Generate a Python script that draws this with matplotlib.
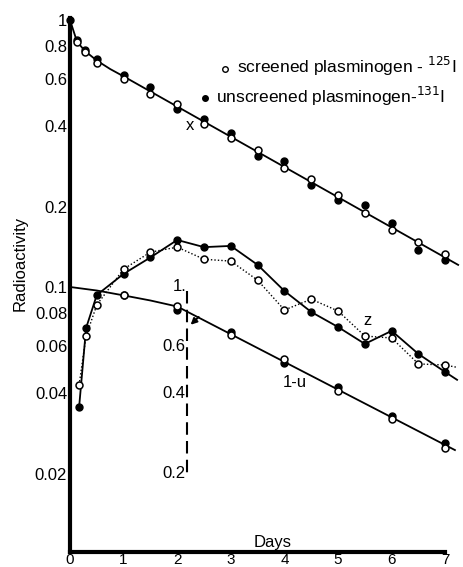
import matplotlib
matplotlib.use('Agg')
import matplotlib.pyplot as plt

plt.rcParams['font.family'] = ['Liberation Sans', 'DejaVu Sans']

# ---------------- data ----------------
# x curve (plasma radioactivity)
x_days = [0.13, 0.28, 0.5, 1, 1.5, 2, 2.5, 3, 3.5, 4, 4.5, 5, 5.5, 6, 6.5, 7]
x_unscreened = [0.84, 0.77, 0.714, 0.622, 0.561, 0.464, 0.426, 0.378, 0.31, 0.296,
                0.241, 0.212, 0.203, 0.174, 0.137, 0.126]
x_screened = [0.83, 0.76, 0.69, 0.60, 0.528, 0.485, 0.408, 0.361, 0.326, 0.279,
              0.254, 0.221, 0.189, 0.163, 0.147, 0.133]
x_start_day = [0]
x_start_val = [1.0]
x_fit_days = [0, 0.13, 0.28, 0.5, 0.75, 1, 7.24]
x_fit_vals = [1.0, 0.83, 0.765, 0.705, 0.655, 0.615, 0.121]

# z curve
z_days = [0.17, 0.3, 0.5, 1, 1.5, 2, 2.5, 3, 3.5, 4, 4.5, 5, 5.5, 6, 6.5, 7]
z_unscreened = [0.0355, 0.0702, 0.0933, 0.112, 0.129, 0.150, 0.141, 0.1425, 0.121,
                0.0966, 0.0806, 0.0708, 0.0612, 0.0685, 0.0561, 0.048]
z_screened = [0.043, 0.0655, 0.0857, 0.1167, 0.135, 0.141, 0.127, 0.125, 0.106,
              0.082, 0.090, 0.0813, 0.0655, 0.0644, 0.0515, 0.051]
z_tail_day = 7.22
z_unscreened_tail = 0.0449
z_screened_tail = 0.050

# 1-u curve
u_days = [1, 2, 3, 4, 5, 6, 7]
u_unscreened = [0.0933, 0.082, 0.0678, 0.0519, 0.0422, 0.0329, 0.026]
u_screened = [0.0933, 0.0849, 0.066, 0.0537, 0.0407, 0.032, 0.0249]
u_fit_days = [0, 0.5, 1, 1.5, 2, 7.18]
u_fit_vals = [0.1, 0.097, 0.093, 0.089, 0.0845, 0.0245]

# inner (1-u) scale
inner_day = 2.18
inner_ticks = [1.0, 0.6, 0.4, 0.2]
inner_labels = ['1.', '0.6', '0.4', '0.2']

# axis ticks
y_ticks = [0.02, 0.04, 0.06, 0.08, 0.1, 0.2, 0.4, 0.6, 0.8, 1]
y_labels = ['0.02', '0.04', '0.06', '0.08', '0.1', '0.2', '0.4', '0.6', '0.8', '1']
x_ticks = [0, 1, 2, 3, 4, 5, 6, 7]

legend_screened = r'screened plasminogen - $^{125}$I'
legend_unscreened = r'unscreened plasminogen-$^{131}$I'

# ---------------- figure ----------------
fig = plt.figure(figsize=(4.63, 5.67), dpi=100)
ax = fig.add_axes([70/463, 1-552/567, 386/463, 534/567])
ax.set_yscale('log')
ax.set_xlim(0, 7.2)
ax.set_ylim(0.01017, 1.0174)

fs = 12
filled = dict(marker='o', ms=5, mfc='black', mec='black', mew=1, ls='none', zorder=4, clip_on=False)
opened = dict(marker='o', ms=5, mfc='white', mec='black', mew=1.1, ls='none', zorder=5, clip_on=False)

# x curve
ax.plot(x_fit_days, x_fit_vals, color='black', lw=1.3, clip_on=False, zorder=3)
ax.plot(x_start_day, x_start_val, **filled)
ax.plot(x_days, x_unscreened, **filled)
ax.plot(x_days, x_screened, **opened)

# z curve
ax.plot(z_days + [z_tail_day], z_unscreened + [z_unscreened_tail], color='black', lw=1.3,
        clip_on=False, zorder=3)
ax.plot(z_days + [z_tail_day], z_screened + [z_screened_tail], color='black', lw=1.0,
        ls=(0, (1, 1.5)), clip_on=False, zorder=3)
ax.plot(z_days, z_unscreened, **filled)
ax.plot(z_days, z_screened, **opened)

# 1-u curve
ax.plot(u_fit_days, u_fit_vals, color='black', lw=1.3, clip_on=False, zorder=3)
ax.plot(u_days, u_unscreened, **filled)
ax.plot(u_days, u_screened, **opened)

# inner scale
inner_pos = [t / 10 for t in inner_ticks]
ax.plot([inner_day, inner_day], [inner_pos[0] * 0.97, inner_pos[-1]], color='black', lw=1.5,
        ls=(0, (6, 3)), zorder=2)
for p, lab in zip(inner_pos, inner_labels):
    dx = 0.0 if lab == '1.' else 0.03
    ax.text(inner_day - dx, p, lab, ha='right', va='center', fontsize=fs)
ax.annotate('', xy=(2.25, 0.0722), xytext=(2.40, 0.0772),
            arrowprops=dict(arrowstyle='-|>', color='black', lw=1.4, mutation_scale=9,
                            shrinkA=0, shrinkB=0))

# curve labels
ax.text(2.24, 0.404, 'x', ha='center', va='center', fontsize=fs)
ax.text(5.54, 0.0752, 'z', ha='center', va='center', fontsize=fs)
ax.text(4.2, 0.044, '1-u', ha='center', va='center', fontsize=fs)

# legend
ax.plot([2.89], [0.655], marker='o', ms=4, mfc='white', mec='black', mew=1, ls='none')
ax.plot([2.52], [0.511], marker='o', ms=4, mfc='black', mec='black', ls='none')
ax.text(3.116, 0.633, legend_screened, ha='left', va='baseline', fontsize=12.5)
ax.text(2.724, 0.489, legend_unscreened, ha='left', va='baseline', fontsize=12.5)

# axes styling
for s in ['top', 'right']:
    ax.spines[s].set_visible(False)
ax.spines['left'].set_linewidth(3)
ax.spines['bottom'].set_linewidth(3)
ax.spines['bottom'].set_bounds(0, 7)
ax.set_yticks(y_ticks)
ax.set_yticklabels(y_labels)
ax.minorticks_off()
ax.set_xticks(x_ticks)
ax.set_xticklabels([str(t) for t in x_ticks])
ax.tick_params(axis='both', length=0, labelsize=fs)
ax.tick_params(axis='y', pad=2)
ax.tick_params(axis='x', pad=1, labelsize=11)

fig.text(20/463, 1-263/567, 'Radioactivity', rotation=90, ha='center', va='center', fontsize=fs)
fig.text(273/463, 1-542/567, 'Days', ha='center', va='center', fontsize=fs)

fig.savefig('out.png', dpi=100)
